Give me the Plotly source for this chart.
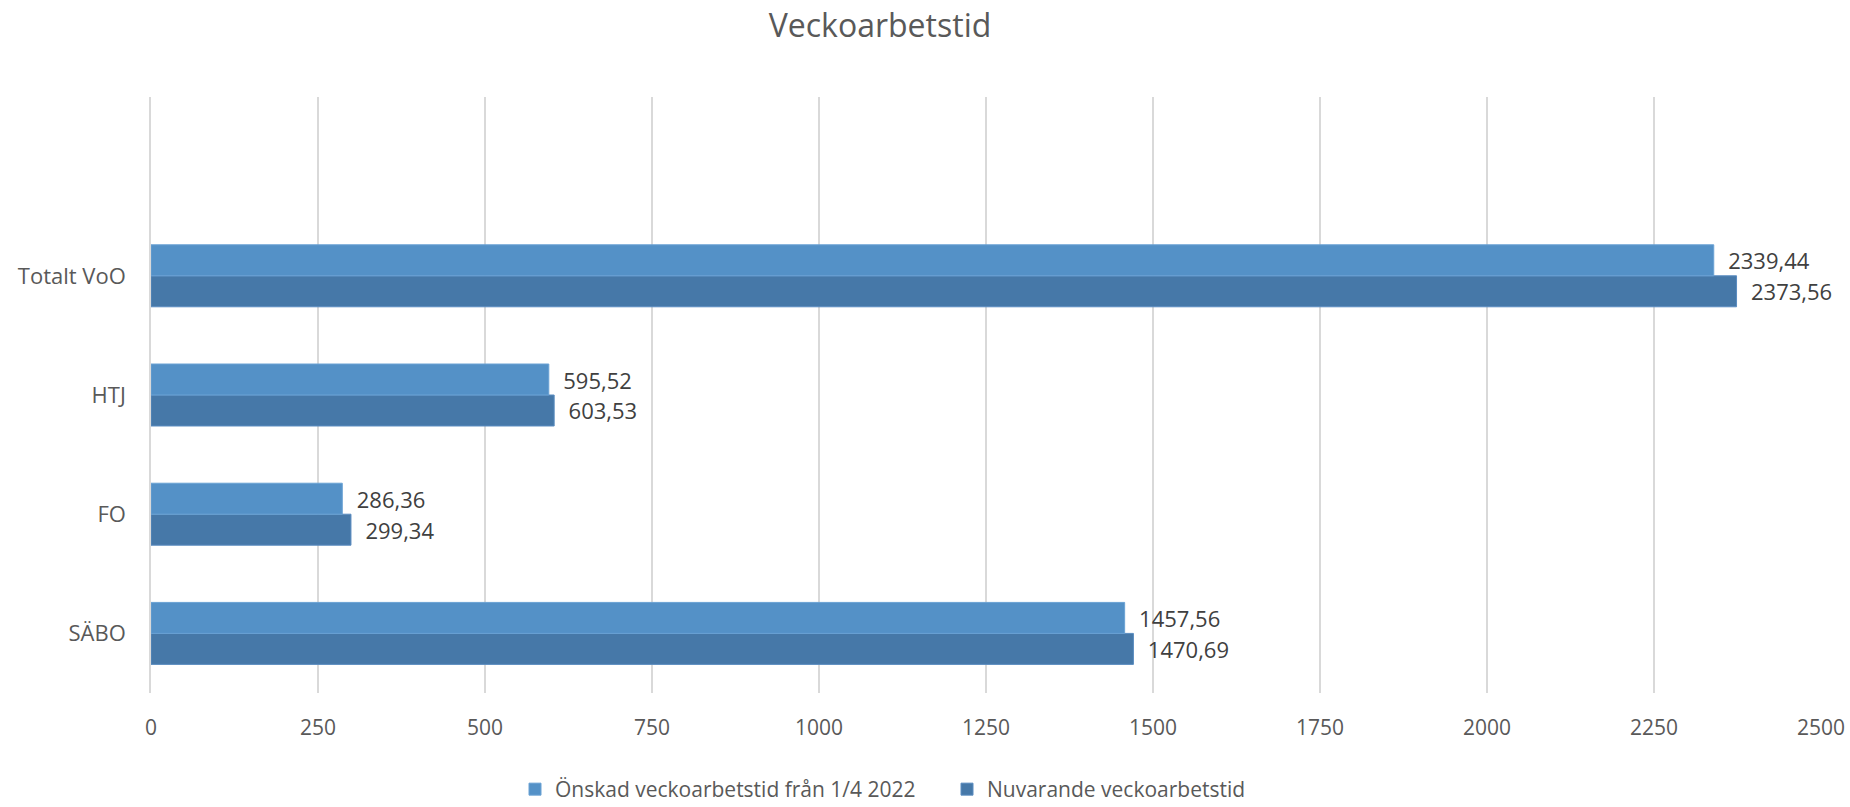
import plotly.graph_objects as go

categories = ["SÄBO", "FO", "HTJ", "Totalt VoO"]
onskad = [1457.56, 286.36, 595.52, 2339.44]
nuvarande = [1470.69, 299.34, 603.53, 2373.56]
series_names = ["Önskad veckoarbetstid från 1/4 2022", "Nuvarande veckoarbetstid"]
x_ticks = list(range(0, 2501, 250))

FONT = "Open Sans"
fig = go.Figure()
fig.add_trace(go.Bar(
    y=categories, x=nuvarande, orientation="h", name=series_names[1],
    marker=dict(color="#4678A8", line=dict(color="#5a8cc0", width=1)),
    texttemplate="  %{x:.2f}", textposition="outside", cliponaxis=False,
    textfont=dict(color="#404040", size=22, family=FONT), legendrank=2,
))
fig.add_trace(go.Bar(
    y=categories, x=onskad, orientation="h", name=series_names[0],
    marker=dict(color="#5491C7", line=dict(color="#6aa2d4", width=1)),
    texttemplate="  %{x:.2f}", textposition="outside", cliponaxis=False,
    textfont=dict(color="#404040", size=22, family=FONT), legendrank=1,
))

fig.update_layout(
    width=1850, height=807,
    separators=", ",
    barmode="group", bargap=0.48, bargroupgap=0,
    paper_bgcolor="white", plot_bgcolor="white",
    margin=dict(l=151, r=29, t=97, b=114, autoexpand=False),
    font=dict(family=FONT, color="#595959", size=21),
    title=dict(text="Veckoarbetstid", x=880/1850, xanchor="center", xref="container",
               y=1 - 26/807, yanchor="middle", yref="container",
               font=dict(size=32, color="#595959", family=FONT)),
    legend=dict(orientation="h", xref="container", yref="container",
                x=515/1850, xanchor="left", y=(807-769)/807, yanchor="top",
                entrywidth=387, entrywidthmode="pixels",
                font=dict(size=21, color="#595959", family=FONT)),
    xaxis=dict(range=[0, 2500], tickvals=x_ticks, showgrid=True, gridcolor="#d9d9d9",
               gridwidth=1.5, zeroline=False, showline=False, automargin=False,
               ticklabelstandoff=20, tickfont=dict(size=21, color="#595959")),
    yaxis=dict(type="category", categoryorder="array", categoryarray=categories,
               range=[-0.5, 4.5], showgrid=False, zeroline=False, automargin=False,
               showline=True, linecolor="#d9d9d9", linewidth=1.5,
               ticklabelstandoff=19, tickfont=dict(size=22, color="#595959")),
)
fig.write_html("out.html", config={"displayModeBar": False},
               post_script="document.body.style.margin='0';document.body.style.overflow='hidden';")
